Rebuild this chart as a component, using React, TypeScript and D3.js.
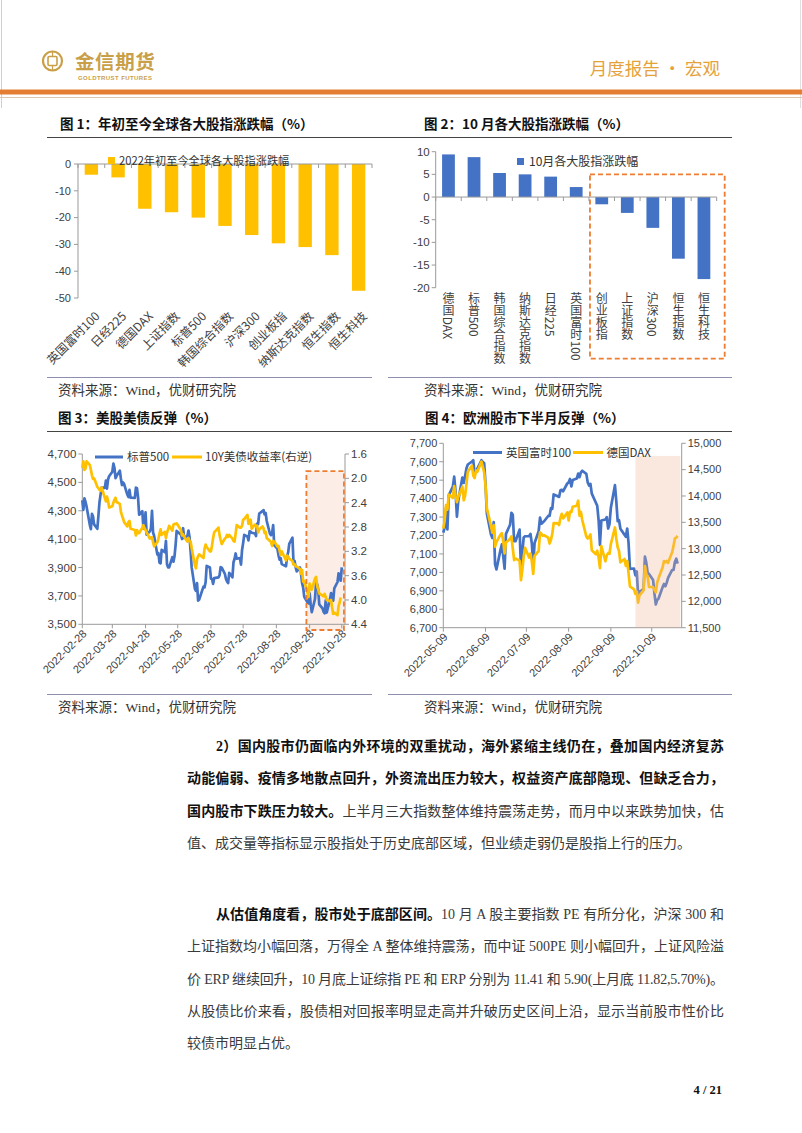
import React from 'react';
import * as d3 from 'd3';

const SANS = "'Liberation Sans', Arial, 'Noto Sans CJK SC', sans-serif";
const CJK = "'Noto Sans CJK SC', 'Liberation Sans', sans-serif";
const SERIF = "'Liberation Serif', 'Noto Sans CJK SC', serif";

const BLUE = '#4472C4';
const GOLD = '#FFC000';
const ORANGE = '#ED7D31';
const AXIS = '#9A9A9A';
const LABEL = '#404040';
const HEADGOLD = '#C9A048';

// ---------- Figure 1 ----------
const ytdCategories = ['英国富时100', '日经225', '德国DAX', '上证指数', '标普500', '韩国综合指数', '沪深300', '创业板指', '纳斯达克指数', '恒生指数', '恒生科技'];
const ytdValues = [-4.0, -5.0, -16.7, -18.0, -20.0, -23.1, -26.5, -29.6, -31.0, -34.0, -47.3];
const ytdTicks = [0, -10, -20, -30, -40, -50];
const ytdLegend = '2022年初至今全球各大股指涨跌幅';

// ---------- Figure 2 ----------
const octCategories = ['德国DAX', '标普500', '韩国综合指数', '纳斯达克指数', '日经225', '英国富时100', '创业板指', '上证指数', '沪深300', '恒生指数', '恒生科技'];
const octValues = [9.4, 8.8, 5.3, 5.0, 4.5, 2.2, -1.6, -3.5, -6.8, -13.6, -18.1];
const octTicks = [10, 5, 0, -5, -10, -15, -20];
const octLegend = '10月各大股指涨跌幅';
const octHighlightFrom = '创业板指';
const octHighlightTop = 5;

// ---------- Figure 3 ----------
const usMonthDays: [number, number[]][] = [
  [2, [28]],
  [3, [1, 2, 3, 4, 7, 8, 9, 10, 11, 14, 15, 16, 17, 18, 21, 22, 23, 24, 25, 28, 29, 30, 31]],
  [4, [1, 4, 5, 6, 7, 8, 11, 12, 13, 14, 18, 19, 20, 21, 22, 25, 26, 27, 28, 29]],
  [5, [2, 3, 4, 5, 6, 9, 10, 11, 12, 13, 16, 17, 18, 19, 20, 23, 24, 25, 26, 27, 31]],
  [6, [1, 2, 3, 6, 7, 8, 9, 10, 13, 14, 15, 16, 17, 21, 22, 23, 24, 27, 28, 29, 30]],
  [7, [1, 5, 6, 7, 8, 11, 12, 13, 14, 15, 18, 19, 20, 21, 22, 25, 26, 27, 28, 29]],
  [8, [1, 2, 3, 4, 5, 8, 9, 10, 11, 12, 15, 16, 17, 18, 19, 22, 23, 24, 25, 26, 29, 30, 31]],
  [9, [1, 2, 6, 7, 8, 9, 12, 13, 14, 15, 16, 19, 20, 21, 22, 23, 26, 27, 28, 29, 30]],
  [10, [3, 4, 5, 6, 7, 10, 11, 12, 13, 14, 17, 18, 19, 20, 21, 24, 25, 26, 27, 28]],
];
const sp500 = [
  4374,
  4306, 4387, 4363, 4329, 4201, 4171, 4278, 4260, 4204, 4173, 4262, 4358, 4412, 4463, 4461, 4512, 4456, 4520, 4543, 4575, 4632, 4602, 4530,
  4546, 4583, 4526, 4481, 4500, 4488, 4413, 4397, 4447, 4392, 4391, 4463, 4459, 4394, 4272, 4297, 4175, 4184, 4288, 4132,
  4155, 4175, 4300, 4147, 4123, 3991, 4001, 3935, 3930, 4024, 4008, 4088, 3923, 3901, 3901, 3974, 3941, 3979, 4058, 4158, 4132,
  4101, 4177, 4109, 4121, 4161, 4116, 4018, 3901, 3750, 3735, 3790, 3667, 3675, 3765, 3760, 3796, 3912, 3900, 3821, 3819, 3785,
  3825, 3831, 3845, 3903, 3899, 3855, 3819, 3802, 3790, 3863, 3831, 3937, 3960, 3999, 3962, 3967, 3921, 4024, 4072, 4130,
  4119, 4091, 4155, 4152, 4145, 4140, 4122, 4210, 4207, 4280, 4297, 4305, 4275, 4284, 4228, 4138, 4128, 4141, 4199, 4058, 4031, 3986, 3955,
  3967, 3924, 3909, 3980, 4006, 4067, 4110, 3932, 3946, 3901, 3873, 3900, 3856, 3790, 3758, 3693, 3655, 3647, 3719, 3640, 3586,
  3678, 3791, 3783, 3745, 3640, 3612, 3589, 3577, 3669, 3583, 3677, 3720, 3695, 3666, 3753, 3798, 3859, 3831, 3807, 3901,
];
const ust10y: (number | null)[] = [
  1.83,
  1.72, 1.86, 1.84, 1.72, 1.78, 1.86, 1.95, 2.01, 2.00, 2.14, 2.16, 2.19, 2.20, 2.15, 2.32, 2.38, 2.30, 2.37, 2.48, 2.46, 2.40, 2.35, 2.32,
  2.39, 2.42, 2.55, 2.61, 2.66, 2.72, 2.79, 2.72, 2.70, 2.83, 2.85, 2.94, 2.85, 2.90, 2.90, 2.81, 2.77, 2.82, 2.85, 2.89,
  2.99, 2.97, 2.97, 3.05, 3.12, 3.05, 2.99, 2.91, 2.84, 2.93, 2.88, 2.98, 2.89, 2.84, 2.78, 2.86, 2.76, 2.75, 2.75, 2.74, 2.85,
  2.94, 2.92, 2.96, 3.04, 2.98, 3.03, 3.04, 3.15, 3.43, 3.48, 3.33, 3.28, 3.25, 3.31, 3.16, 3.09, 3.13, 3.20, 3.20, 3.10, 2.98,
  2.89, 2.81, 2.93, 3.01, 3.08, 2.99, 2.97, 2.93, 2.96, 2.93, 2.99, 3.03, 3.04, 2.91, 2.77, 2.81, 2.81, 2.78, 2.68, 2.67,
  2.60, 2.75, 2.73, 2.68, 2.83, 2.76, 2.79, 2.78, 2.89, 2.84, 2.79, 2.82, 2.90, 2.88, 2.98, 3.03, 3.05, 3.11, 3.03, 3.04, 3.12, 3.11, 3.19,
  3.26, 3.20, 3.35, 3.27, 3.29, 3.32, 3.36, 3.42, 3.41, 3.45, 3.45, 3.49, 3.57, 3.51, 3.70, 3.69, 3.88, 3.95, 3.73, 3.79, 3.83,
  3.65, 3.62, 3.76, 3.83, 3.89, null, 3.94, 3.90, 3.95, 4.00, 4.02, 4.00, 4.13, 4.23, 4.21, 4.25, 4.10, 4.04, 3.96, null,
];
const usXDomain = ['2022-02-28', '2022-10-31'];
const usLeftTicks = [4700, 4500, 4300, 4100, 3900, 3700, 3500];
const usRightTicks = [1.6, 2.0, 2.4, 2.8, 3.2, 3.6, 4.0, 4.4];
const usDateTicks = ['2022-02-28', '2022-03-28', '2022-04-28', '2022-05-28', '2022-06-28', '2022-07-28', '2022-08-28', '2022-09-28', '2022-10-28'];
const usShadeDates = ['2022-09-25', '2022-10-30'];
const usShadeLevels = [4580, 3460];
const usLegend = ['标普500', '10Y美债收益率(右逆)'];

// ---------- Figure 4 ----------
const euMonthDays: [number, number[]][] = [
  [5, [9, 10, 11, 12, 13, 16, 17, 18, 19, 20, 23, 24, 25, 26, 27, 30, 31]],
  [6, [1, 2, 3, 6, 7, 8, 9, 10, 13, 14, 15, 16, 17, 20, 21, 22, 23, 24, 27, 28, 29, 30]],
  [7, [1, 4, 5, 6, 7, 8, 11, 12, 13, 14, 15, 18, 19, 20, 21, 22, 25, 26, 27, 28, 29]],
  [8, [1, 2, 3, 4, 5, 8, 9, 10, 11, 12, 15, 16, 17, 18, 19, 22, 23, 24, 25, 26, 29, 30, 31]],
  [9, [1, 2, 5, 6, 7, 8, 9, 12, 13, 14, 15, 16, 19, 20, 21, 22, 23, 26, 27, 28, 29, 30]],
  [10, [3, 4, 5, 6, 7, 10, 11, 12, 13, 14, 17, 18, 19, 20, 21, 24, 25, 26, 27, 28]],
];
const ftse100: (number | null)[] = [
  7216, 7244, 7348, 7233, 7418, 7465, 7519, 7438, 7302, 7390, 7514, 7485, 7522, 7565, 7585, 7600, 7608,
  7533, null, null, 7608, 7598, 7593, 7476, 7318, 7206, 7187, 7273, 7045, 7016, 7122, 7152, 7089, 7020, 7209, 7258, 7323, 7312, 7169,
  7169, 7232, 7025, 7108, 7189, 7196, 7197, 7209, 7156, 7040, 7159, 7223, 7297, 7264, 7271, 7277, 7306, 7306, 7348, 7345, 7423,
  7413, 7409, 7445, 7448, 7440, 7482, 7488, 7507, 7466, 7501, 7509, 7536, 7516, 7542, 7551, 7534, 7488, 7471, 7480, 7427, null, 7361, 7284,
  7149, 7281, 7287, 7300, 7238, 7262, 7351, 7473, 7385, 7278, 7283, 7237, null, 7193, 7238, 7159, 7019, 7021, 6984, 7005, 6881, 6894,
  6909, 7086, 7053, 6998, 6991, 6959, 6885, 6826, 6850, 6858, 6920, 6937, 6925, 6944, 6970, 7013, 7013, 7056, 7074, 7048,
];
const dax: (number | null)[] = [
  13380, 13535, 13828, 13740, 14027, 13964, 14186, 14008, 13882, 13982, 14175, 13919, 14008, 14231, 14462, 14575, 14388,
  14340, 14485, 14460, 14653, 14556, 14446, 14198, 13762, 13427, 13304, 13447, 13038, 13126, 13265, 13293, 13145, 12912, 13118, 13186, 13231, 13003, 12784,
  12813, 12773, 12401, 12595, 12843, 13015, 12832, 12905, 12756, 12520, 12865, 12959, 13308, 13282, 13247, 13254, 13210, 13097, 13166, 13282, 13484,
  13480, 13449, 13588, 13662, 13574, 13688, 13535, 13700, 13694, 13795, 13816, 13910, 13626, 13697, 13544, 13230, 13194, 13221, 13271, 12971, 12893, 12961, 12835,
  12631, 13050, 12761, 12872, 12916, 12904, 13088, 13402, 13189, 13028, 12956, 12741, 12803, 12671, 12767, 12531, 12284, 12228, 12140, 12183, 11976, 12114,
  12209, 12670, 12517, 12471, 12273, 12272, 12220, 12172, 12355, 12438, 12649, 12765, 12741, 12767, 12731, 12931, 13053, 13195, 13211, 13243,
];
const euXDomain = ['2022-05-09', '2022-10-31'];
const euLeftTicks = [7700, 7600, 7500, 7400, 7300, 7200, 7100, 7000, 6900, 6800, 6700];
const euRightTicks = [15000, 14500, 14000, 13500, 13000, 12500, 12000, 11500];
const euDateTicks = ['2022-05-09', '2022-06-09', '2022-07-09', '2022-08-09', '2022-09-09', '2022-10-09'];
const euShadeDates = ['2022-09-27', '2022-10-30'];
const euShadeLevels = [14760, 11500];
const euLegend = ['英国富时100', '德国DAX'];

// ---------- Body text ----------
type Part = { b: boolean; t: string };
type Line = { indent: boolean; justify: boolean; parts: Part[] };
const para1: Line[] = [
  { indent: true, justify: true, parts: [{ b: true, t: '2）国内股市仍面临内外环境的双重扰动，海外紧缩主线仍在，叠加国内经济复苏' }] },
  { indent: false, justify: true, parts: [{ b: true, t: '动能偏弱、疫情多地散点回升，外资流出压力较大，权益资产底部隐现、但缺乏合力，' }] },
  { indent: false, justify: true, parts: [{ b: true, t: '国内股市下跌压力较大。' }, { b: false, t: '上半月三大指数整体维持震荡走势，而月中以来跌势加快，估' }] },
  { indent: false, justify: false, parts: [{ b: false, t: '值、成交量等指标显示股指处于历史底部区域，但业绩走弱仍是股指上行的压力。' }] },
];
const para2: Line[] = [
  { indent: true, justify: true, parts: [{ b: true, t: '从估值角度看，股市处于底部区间。' }, { b: false, t: '10 月 A 股主要指数 PE 有所分化，沪深 300 和' }] },
  { indent: false, justify: true, parts: [{ b: false, t: '上证指数均小幅回落，万得全 A 整体维持震荡，而中证 500PE 则小幅回升，上证风险溢' }] },
  { indent: false, justify: true, parts: [{ b: false, t: '价 ERP 继续回升，10 月底上证综指 PE 和 ERP 分别为 11.41 和 5.90(上月底 11.82,5.70%)。' }] },
  { indent: false, justify: true, parts: [{ b: false, t: '从股债比价来看，股债相对回报率明显走高并升破历史区间上沿，显示当前股市性价比' }] },
  { indent: false, justify: false, parts: [{ b: false, t: '较债市明显占优。' }] },
];

const toDate = (s: string) => new Date(s + 'T00:00:00Z');
function expandDays(md: [number, number[]][]): Date[] {
  const out: Date[] = [];
  md.forEach(([m, days]) => days.forEach((d) => out.push(new Date(Date.UTC(2022, m - 1, d)))));
  return out;
}
function series(dates: Date[], vals: (number | null)[]): [Date, number][] {
  const out: [Date, number][] = [];
  const n = Math.min(dates.length, vals.length);
  for (let i = 0; i < n; i++) {
    const v = vals[i];
    if (v !== null && v !== undefined) out.push([dates[i], v]);
  }
  return out;
}

function Header() {
  return (
    <g>
      <line x1={1.5} y1={0} x2={1.5} y2={108} stroke="#cfcfcf" />
      <line x1={800.5} y1={0} x2={800.5} y2={108} stroke="#e0e0e0" />
      <circle cx={52.5} cy={61} r={9.5} fill="none" stroke={HEADGOLD} strokeWidth={2.2} />
      <rect x={48} y={56.5} width={9} height={9} rx={1.2} fill="none" stroke={HEADGOLD} strokeWidth={1.6} />
      <line x1={52.5} y1={51.5} x2={52.5} y2={56.5} stroke={HEADGOLD} strokeWidth={1.2} />
      <line x1={52.5} y1={65.5} x2={52.5} y2={70.5} stroke={HEADGOLD} strokeWidth={1.2} />
      <text x={75} y={68.5} fontSize={19.5} fontWeight={700} fill={HEADGOLD} fontFamily={CJK} letterSpacing={0.6}>金信期货</text>
      <text x={78} y={80} fontSize={6} fontWeight={700} fill={HEADGOLD} fontFamily={SANS} textLength={74} lengthAdjust="spacing">GOLDTRUST FUTURES</text>
      <text x={720} y={75} textAnchor="end" fontSize={17.5} fill="#E5A23A" fontFamily={CJK}>月度报告 • 宏观</text>
      <rect x={0} y={89.5} width={802} height={5} fill="#E47E32" />
      <line x1={0} x2={802} y1={97.5} y2={97.5} stroke="#D9C7AF" strokeWidth={1} />
    </g>
  );
}

function FigTitle({ x, y, text }: { x: number; y: number; text: string }) {
  return <text x={x} y={y} fontSize={13.5} fontWeight={700} fill="#111" fontFamily={CJK}>{text}</text>;
}
function Source({ x, y }: { x: number; y: number }) {
  return <text x={x} y={y} fontSize={13.5} fill="#333" fontFamily={SERIF}>资料来源：Wind，优财研究院</text>;
}

function Fig1() {
  const x = d3.scaleBand<string>().domain(ytdCategories).range([78, 372]).paddingInner(0.5).paddingOuter(0.25);
  const y = d3.scaleLinear().domain([-50, 0]).range([298, 164]);
  const step = x.step();
  const x0 = x.range()[0];
  return (
    <g>
      {ytdCategories.map((c, i) => (
        <rect key={c} x={x(c)} y={y(0)} width={x.bandwidth()} height={y(ytdValues[i]) - y(0)} fill={GOLD} />
      ))}
      <line x1={78} x2={78} y1={y(0)} y2={y(-50)} stroke={AXIS} />
      {ytdTicks.map((t) => (
        <g key={t}>
          <line x1={74} x2={78} y1={y(t)} y2={y(t)} stroke={AXIS} />
          <text x={71} y={y(t)} dy="0.35em" textAnchor="end" fontSize={11} fill={LABEL} fontFamily={SANS}>{t}</text>
        </g>
      ))}
      <line x1={78} x2={x.range()[1]} y1={y(0)} y2={y(0)} stroke={AXIS} />
      {d3.range(ytdCategories.length + 1).map((k) => (
        <line key={k} x1={x0 + k * step} x2={x0 + k * step} y1={y(0)} y2={y(0) + 4} stroke={AXIS} />
      ))}
      {ytdCategories.map((c) => (
        <text key={c} transform={`translate(${(x(c) as number) + x.bandwidth() / 2 + 9},${y(-50) + 19}) rotate(-45)`} textAnchor="end" fontSize={12} fill={LABEL} fontFamily={CJK}>{c}</text>
      ))}
      <rect x={108} y={157} width={7} height={7} fill={GOLD} />
      <text x={119} y={164.5} fontSize={11.2} fill="#333" fontFamily={CJK}>{ytdLegend}</text>
    </g>
  );
}

function Fig2() {
  const x = d3.scaleBand<string>().domain(octCategories).range([435.7, 716.7]).paddingInner(0.5).paddingOuter(0.25);
  const y = d3.scaleLinear().domain([-20, 10]).range([287.7, 151.7]);
  const step = x.step();
  const x0 = x.range()[0];
  const hiIdx = octCategories.indexOf(octHighlightFrom);
  const boxX0 = x0 + hiIdx * step + 1;
  const boxX1 = x.range()[1] + 8;
  const boxY0 = y(octHighlightTop);
  const boxY1 = y(-20) + 71;
  return (
    <g>
      {octCategories.map((c, i) => {
        const v = octValues[i];
        return <rect key={c} x={x(c)} y={y(Math.max(0, v))} width={x.bandwidth()} height={Math.abs(y(v) - y(0))} fill={BLUE} />;
      })}
      <line x1={x0} x2={x0} y1={y(10)} y2={y(-20)} stroke={AXIS} />
      {octTicks.map((t) => (
        <g key={t}>
          <line x1={x0 - 4} x2={x0} y1={y(t)} y2={y(t)} stroke={AXIS} />
          <text x={x0 - 6} y={y(t)} dy="0.35em" textAnchor="end" fontSize={11.5} fill={LABEL} fontFamily={SANS}>{t}</text>
        </g>
      ))}
      <line x1={x0} x2={x.range()[1]} y1={y(0)} y2={y(0)} stroke={AXIS} />
      {d3.range(octCategories.length + 1).map((k) => (
        <line key={k} x1={x0 + k * step} x2={x0 + k * step} y1={y(0)} y2={y(0) + 4} stroke={AXIS} />
      ))}
      {octCategories.map((c) => (
        <text key={c} x={(x(c) as number) + x.bandwidth() / 2} y={y(-20) + 5} style={{ writingMode: 'vertical-rl' as any }} fontSize={12} fill={LABEL} fontFamily={CJK}>{c}</text>
      ))}
      <rect x={517} y={158} width={7} height={7} fill={BLUE} />
      <text x={529} y={166} fontSize={12} fill="#333" fontFamily={CJK}>{octLegend}</text>
      <rect x={boxX0} y={boxY0} width={boxX1 - boxX0} height={boxY1 - boxY0} fill="none" stroke={ORANGE} strokeWidth={1.8} strokeDasharray="5,3" />
    </g>
  );
}

function Fig3() {
  const dates = expandDays(usMonthDays);
  const x = d3.scaleUtc().domain(usXDomain.map(toDate)).range([82.3, 345]);
  const yL = d3.scaleLinear().domain([3500, 4700]).range([624.3, 454]);
  const yR = d3.scaleLinear().domain([1.6, 4.4]).range([454, 624.3]);
  const spLine = d3.line<[Date, number]>().x((d) => x(d[0])).y((d) => yL(d[1]));
  const ustLine = d3.line<[Date, number]>().x((d) => x(d[0])).y((d) => yR(d[1]));
  const [xl, xr] = x.range();
  const axisY = yL(3500);
  const sx0 = x(toDate(usShadeDates[0]));
  const sx1 = x(toDate(usShadeDates[1]));
  const sy0 = yL(usShadeLevels[0]);
  const sy1 = yL(usShadeLevels[1]);
  return (
    <g>
      <rect x={sx0} y={sy0} width={sx1 - sx0} height={sy1 - sy0} fill="#FCEEE6" />
      <line x1={xl} x2={xl} y1={yL(4700)} y2={axisY} stroke={AXIS} />
      <line x1={xr} x2={xr} y1={yR(1.6)} y2={axisY} stroke={AXIS} />
      <line x1={xl} x2={xr} y1={axisY} y2={axisY} stroke={AXIS} />
      {usLeftTicks.map((t) => (
        <g key={t}>
          <line x1={xl - 4} x2={xl} y1={yL(t)} y2={yL(t)} stroke={AXIS} />
          <text x={xl - 6} y={yL(t)} dy="0.35em" textAnchor="end" fontSize={11.5} fill={LABEL} fontFamily={SANS}>{d3.format(',')(t)}</text>
        </g>
      ))}
      {usRightTicks.map((t) => (
        <g key={t}>
          <line x1={xr} x2={xr + 4} y1={yR(t)} y2={yR(t)} stroke={AXIS} />
          <text x={xr + 6} y={yR(t)} dy="0.35em" fontSize={11.5} fill={LABEL} fontFamily={SANS}>{d3.format('.1f')(t)}</text>
        </g>
      ))}
      {usDateTicks.map((s) => {
        const px = x(toDate(s));
        return (
          <g key={s}>
            <line x1={px} x2={px} y1={axisY} y2={axisY + 4} stroke={AXIS} />
            <text transform={`translate(${px + 5},${axisY + 10}) rotate(-45)`} textAnchor="end" fontSize={11} fill={LABEL} fontFamily={SANS}>{s}</text>
          </g>
        );
      })}
      <path d={spLine(series(dates, sp500)) || ''} fill="none" stroke={BLUE} strokeWidth={2.7} strokeLinejoin="round" />
      <path d={ustLine(series(dates, ust10y)) || ''} fill="none" stroke={GOLD} strokeWidth={2.7} strokeLinejoin="round" />
      <rect x={sx0} y={sy0} width={sx1 - sx0} height={sy1 - sy0} fill="none" stroke={ORANGE} strokeWidth={1.8} strokeDasharray="5,3" />
      <line x1={95} x2={123} y1={457} y2={457} stroke={BLUE} strokeWidth={3} />
      <text x={127} y={461} fontSize={11.5} fill="#333" fontFamily={CJK}>{usLegend[0]}</text>
      <line x1={172} x2={202} y1={457} y2={457} stroke={GOLD} strokeWidth={3} />
      <text x={205} y={461} fontSize={11.5} fill="#333" fontFamily={CJK}>{usLegend[1]}</text>
    </g>
  );
}

function Fig4() {
  const dates = expandDays(euMonthDays);
  const x = d3.scaleUtc().domain(euXDomain.map(toDate)).range([443.3, 681.7]);
  const yL = d3.scaleLinear().domain([6700, 7700]).range([627.7, 443.3]);
  const yR = d3.scaleLinear().domain([11500, 15000]).range([627.7, 443.3]);
  const ftLine = d3.line<[Date, number]>().x((d) => x(d[0])).y((d) => yL(d[1]));
  const daxLine = d3.line<[Date, number]>().x((d) => x(d[0])).y((d) => yR(d[1]));
  const [xl, xr] = x.range();
  const axisY = yL(6700);
  const sx0 = x(toDate(euShadeDates[0]));
  const sx1 = x(toDate(euShadeDates[1]));
  const sy0 = yR(euShadeLevels[0]);
  const sy1 = yR(euShadeLevels[1]);
  return (
    <g>
      <line x1={xl} x2={xl} y1={yL(7700)} y2={axisY} stroke={AXIS} />
      <line x1={xr} x2={xr} y1={yR(15000)} y2={axisY} stroke={AXIS} />
      <line x1={xl} x2={xr} y1={axisY} y2={axisY} stroke={AXIS} />
      {euLeftTicks.map((t) => (
        <g key={t}>
          <line x1={xl - 4} x2={xl} y1={yL(t)} y2={yL(t)} stroke={AXIS} />
          <text x={xl - 6} y={yL(t)} dy="0.35em" textAnchor="end" fontSize={11} fill={LABEL} fontFamily={SANS}>{d3.format(',')(t)}</text>
        </g>
      ))}
      {euRightTicks.map((t) => (
        <g key={t}>
          <line x1={xr} x2={xr + 4} y1={yR(t)} y2={yR(t)} stroke={AXIS} />
          <text x={xr + 6} y={yR(t)} dy="0.35em" fontSize={11} fill={LABEL} fontFamily={SANS}>{d3.format(',')(t)}</text>
        </g>
      ))}
      {euDateTicks.map((s) => {
        const px = x(toDate(s));
        return (
          <g key={s}>
            <line x1={px} x2={px} y1={axisY} y2={axisY + 4} stroke={AXIS} />
            <text transform={`translate(${px + 5},${axisY + 10}) rotate(-45)`} textAnchor="end" fontSize={11} fill={LABEL} fontFamily={SANS}>{s}</text>
          </g>
        );
      })}
      <path d={ftLine(series(dates, ftse100)) || ''} fill="none" stroke={BLUE} strokeWidth={2.7} strokeLinejoin="round" />
      <path d={daxLine(series(dates, dax)) || ''} fill="none" stroke={GOLD} strokeWidth={2.7} strokeLinejoin="round" />
      <rect x={sx0} y={sy0} width={sx1 - sx0} height={sy1 - sy0} fill="rgb(240,180,150)" opacity={0.3} />
      <line x1={473} x2={502} y1={452.5} y2={452.5} stroke={BLUE} strokeWidth={3} />
      <text x={506} y={456.5} fontSize={11.5} fill="#333" fontFamily={CJK}>{euLegend[0]}</text>
      <line x1={573} x2={603} y1={452.5} y2={452.5} stroke={GOLD} strokeWidth={3} />
      <text x={606.5} y={456.5} fontSize={11.5} fill="#333" fontFamily={CJK}>{euLegend[1]}</text>
    </g>
  );
}

function Paragraph({ lines, top }: { lines: Line[]; top: number }) {
  const left = 187;
  const right = 724;
  const indent = 29;
  const lh = 32.3;
  return (
    <g>
      {lines.map((ln, i) => {
        const x = left + (ln.indent ? indent : 0);
        const extra: any = ln.justify ? { textLength: right - x, lengthAdjust: 'spacing' } : {};
        return (
          <text key={i} x={x} y={top + i * lh} fontSize={14} fontFamily={SERIF} {...extra}>
            {ln.parts.map((p, j) => (
              <tspan key={j} fontWeight={p.b ? 700 : 400} fill={p.b ? '#111' : '#3a3a3a'}>{p.t}</tspan>
            ))}
          </text>
        );
      })}
    </g>
  );
}

export default function App() {
  return (
    <div style={{ position: 'absolute', left: 0, top: 0, width: 802, height: 1133, background: '#fff' }}>
      <svg width={802} height={1133} viewBox="0 0 802 1133" style={{ display: 'block' }}>
        <rect x={0} y={0} width={802} height={1133} fill="#fff" />
        <Header />
        <FigTitle x={60} y={129} text="图 1：年初至今全球各大股指涨跌幅（%）" />
        <FigTitle x={424} y={129} text="图 2：10 月各大股指涨跌幅（%）" />
        <line x1={47} x2={732} y1={137.5} y2={137.5} stroke="#444" strokeWidth={1} />
        <Fig1 />
        <Fig2 />
        <line x1={47} x2={372} y1={377.5} y2={377.5} stroke="#8E8EAE" strokeWidth={1} />
        <line x1={388} x2={732} y1={377.5} y2={377.5} stroke="#8E8EAE" strokeWidth={1} />
        <Source x={58} y={395} />
        <Source x={424} y={395} />
        <FigTitle x={58} y={423} text="图 3：美股美债反弹（%）" />
        <FigTitle x={425} y={423} text="图 4：欧洲股市下半月反弹（%）" />
        <line x1={47} x2={732} y1={431.5} y2={431.5} stroke="#444" strokeWidth={1} />
        <Fig3 />
        <Fig4 />
        <line x1={47} x2={372} y1={694.5} y2={694.5} stroke="#8E8EAE" strokeWidth={1} />
        <line x1={388} x2={732} y1={694.5} y2={694.5} stroke="#8E8EAE" strokeWidth={1} />
        <Source x={58} y={712} />
        <Source x={424} y={712} />
        <Paragraph lines={para1} top={751} />
        <Paragraph lines={para2} top={919} />
        <text x={722} y={1094} textAnchor="end" fontSize={12.5} fontWeight={700} fontFamily={SERIF} fill="#111">4 / 21</text>
      </svg>
    </div>
  );
}
